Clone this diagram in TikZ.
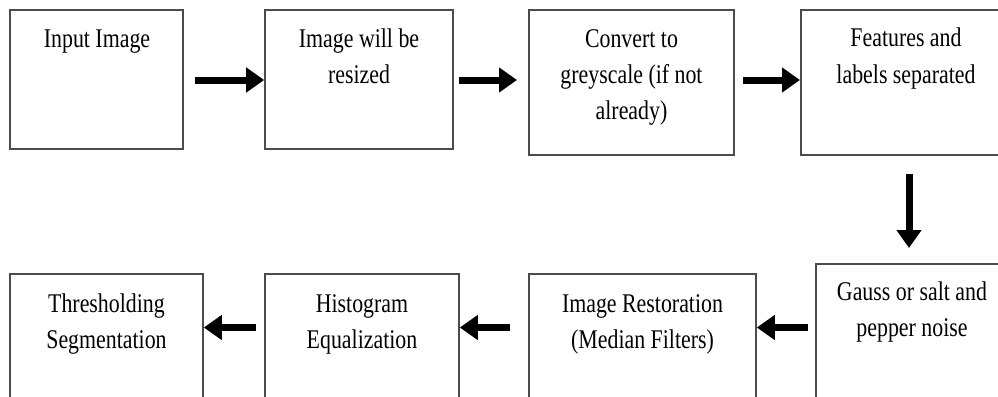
\documentclass[tikz,border=0pt]{standalone}
\usepackage{fontspec}
\setmainfont{Liberation Serif}
\usepackage{graphicx}
\usetikzlibrary{arrows.meta}
\newcommand{\lab}[1]{\scalebox{0.81}[1]{\begin{tabular}[t]{@{}c@{}}#1\end{tabular}}}
\begin{document}
\begin{tikzpicture}[x=1pt,y=-1pt,
  box/.style={draw=black!70,line width=1.6pt,inner sep=0pt},
  lbl/.style={inner sep=0pt,anchor=base,font=\fontsize{27}{36}\selectfont},
  arr/.style={line width=7pt,-{Triangle[width=24pt,length=18pt]}}]
\useasboundingbox (0,0) rectangle (998,396);
\clip (0,0) rectangle (998,396);
% boxes
\node[box,minimum width=173pt,minimum height=139pt] (b1) at (96.5,79.5) {};
\node[box,minimum width=188pt,minimum height=139pt] (b2) at (359,79.5) {};
\node[box,minimum width=205pt,minimum height=145pt] (b3) at (631.5,82.5) {};
\node[box,minimum width=210pt,minimum height=145pt] (b4) at (906,82.5) {};
\node[box,minimum width=192pt,minimum height=146pt] (b5) at (912,337) {};
\node[box,minimum width=227pt,minimum height=136pt] (b6) at (642.5,342) {};
\node[box,minimum width=194pt,minimum height=136pt] (b7) at (362,342) {};
\node[box,minimum width=193pt,minimum height=136pt] (b8) at (106.5,342) {};
% labels
\node[lbl] (t1) at (97,48) {\lab{Input Image}};
\node[lbl] (t2) at (359,48) {\lab{Image will be\\resized}};
\node[lbl] (t3) at (631.5,48) {\lab{Convert to\\greyscale (if not\\already)}};
\node[lbl] (t4) at (906,47) {\lab{Features and\\labels separated}};
\node[lbl] (t5) at (912,300) {\lab{Gauss or salt and\\pepper noise}};
\node[lbl] (t6) at (642.5,312) {\lab{Image Restoration\\(Median Filters)}};
\node[lbl] (t7) at (362,312) {\lab{Histogram\\Equalization}};
\node[lbl] (t8) at (106.5,312) {\lab{Thresholding\\Segmentation}};
% arrow ends
\coordinate (a1s) at (195,80);
\coordinate (a2s) at (459,80);
\coordinate (a2e) at (517,80);
\coordinate (a3s) at (743,80);
\coordinate (a3e) at (800,80);
\coordinate (a4s) at (909,174);
\coordinate (a4e) at (909,248);
\coordinate (a5s) at (808,327.5);
\coordinate (a6s) at (510,327.5);
\coordinate (a7s) at (256,327.5);
% arrows
\draw[arr] (a1s) -- (b2.west |- a1s);
\draw[arr] (a2s) -- (a2e);
\draw[arr] (a3s) -- (a3e);
\draw[arr] (a4s) -- (a4e);
\draw[arr] (a5s) -- (b6.east |- a5s);
\draw[arr] (a6s) -- (b7.east |- a6s);
\draw[arr] (a7s) -- (b8.east |- a7s);
\end{tikzpicture}
\end{document}
